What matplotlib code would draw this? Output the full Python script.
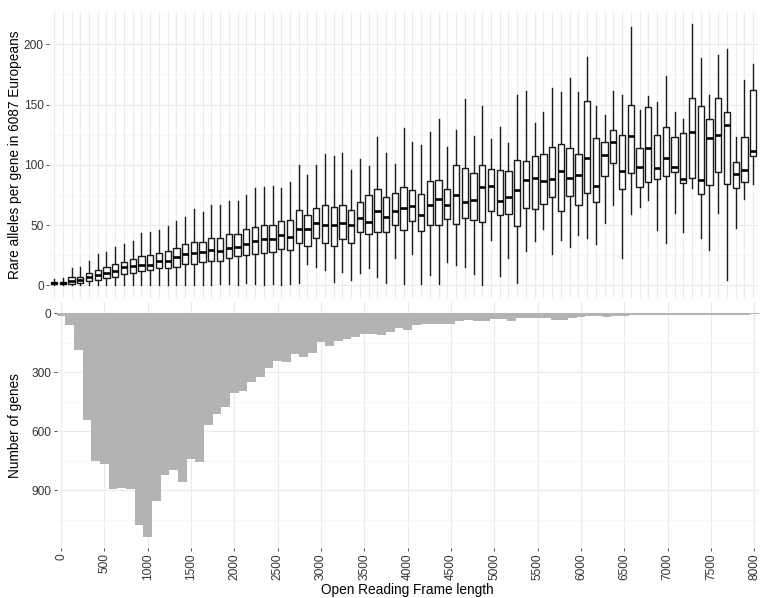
import numpy as np
import matplotlib
matplotlib.use("Agg")
import matplotlib.pyplot as plt

plt.rcParams['font.family'] = ['Liberation Sans', 'DejaVu Sans']

# ORF length bins (categories)
orf_bins = np.arange(0, 8001, 100)

# Boxplot statistics per bin (rare alleles per gene)
box_q1 = [1, 1, 1, 2, 3.5, 4.4, 6.3, 7, 9, 10,
          11.6, 12.7, 14, 14, 15.5, 18, 18, 19, 20, 20,
          23, 24, 25, 26, 27, 28, 30, 29, 35, 33,
          39, 35, 33, 38.4, 35, 44, 42.8, 44, 44, 49.7,
          46, 53.3, 45, 50, 49.7, 54.7, 51, 55.5, 54.4, 52.8,
          62, 58, 59, 49, 63.8, 63, 67.7, 73.5, 61.3, 73.8,
          66.9, 77, 69, 91, 101.4, 80, 92.8, 81.2, 86, 87.8,
          91, 94, 84.8, 88.7, 75.7, 82.9, 94.2, 84, 80.4, 85.4,
          107.2]
box_med = [2, 2, 4, 4.5, 7, 8.5, 10.5, 12, 15.5, 16,
           17, 17, 20.4, 20.4, 23.5, 25.7, 26.5, 27.3, 29.3, 28.5,
           31, 32, 34, 37, 38.4, 38.4, 41.4, 40, 46.4, 46.4,
           51.4, 50, 50, 51.4, 50, 56, 52.8, 61.6, 57, 62,
           64, 66, 58.6, 67, 72, 66.9, 75, 69, 71, 81.5,
           82.6, 70, 73.5, 78.7, 87, 89, 86.5, 87.8, 94.8, 89,
           91.7, 105.5, 82, 108.3, 119, 94.8, 123.6, 97.8, 114, 97,
           105.5, 98.3, 88.4, 127.6, 87, 122.4, 124.9, 132.9, 92.5, 95.9,
           111.6]
box_q3 = [3, 3, 7, 7, 10, 13, 15, 17.4, 19, 21.5,
          24.6, 25, 27, 28.5, 31, 34, 36, 36, 39, 39,
          42.5, 42.5, 47, 48.6, 49.7, 49.7, 53, 54, 62.7, 58,
          63.8, 66.9, 65, 66.9, 62.7, 69, 75, 79.8, 72.9, 77,
          81.5, 79.3, 76, 86.5, 87, 80, 100, 97, 93, 100,
          96.4, 95.3, 94.5, 103.6, 103, 107, 108.6, 115, 117, 113.8,
          109, 153, 122.4, 119, 128.7, 124.9, 150, 114, 148, 124.6,
          131.5, 122.7, 126.5, 155.8, 149, 137.8, 155.8, 144, 102.5, 122.7,
          162.4]
whisk_lo = [0, 0, 0, 0, 0, 0, 0, 0, 0, 0,
            0, 0, 0, 0, 0, 0, 0, 0, 0, 1,
            1, 0, 2, 1, 0, 1, 0, 1, 2, 17.4,
            15.5, 12.7, 2.8, 11.3, 4.4, 10.5, 14.4, 6.6, 1.7, 22.4,
            1, 26, 1, 8.3, 1, 19, 17, 15, 9.4, 0,
            38, 7.5, 23, 2, 28.5, 36.5, 47, 26, 37.3, 32,
            42, 39, 34, 52, 66.3, 22.4, 59, 65, 71, 46,
            35.4, 60, 44.2, 81, 39, 29.3, 60, 4.4, 47.2, 72,
            84]
whisk_hi = [5, 6, 14, 15, 20, 26, 28, 32, 34, 37,
            43, 44, 46, 49, 53, 57, 63, 61, 66.6, 66.6,
            70, 69.6, 75, 80.6, 81.5, 82.6, 80.4, 85.6, 99.7, 91.7,
            99.7, 108.6, 107.7, 109.4, 95.6, 104.4, 99, 123, 109.4, 100.5,
            130.7, 118.5, 116.6, 127.6, 137.6, 114.6, 128.5, 154.4, 123.8, 149,
            121.5, 131.5, 117.7, 157.5, 161.6, 135, 143.4, 164, 160, 172.4,
            160, 189.2, 149, 141.4, 161.6, 158.3, 214, 145.3, 157, 152.5,
            174, 144, 137.6, 217, 189, 157.5, 191.4, 196.4, 122.7, 170.4,
            184]

# Number of genes per ORF length bin
gene_counts = [12, 58, 187, 542, 752, 767, 895, 886, 895, 1077,
               1138, 954, 824, 798, 858, 742, 756, 569, 513, 475,
               407, 394, 351, 323, 278, 243, 246, 209, 221, 204,
               144, 165, 139, 129, 119, 104, 104, 112, 95, 75,
               83, 59, 54, 56, 56, 53, 37, 34, 37, 37,
               29, 31, 37, 25, 25, 25, 25, 34, 34, 22,
               17, 15, 14, 17, 12, 12, 10, 10, 9, 11,
               10, 10, 11, 10, 10, 8, 11, 10, 9, 11,
               4]

W, H = 761, 598
fig = plt.figure(figsize=(W / 100, H / 100), dpi=100)

def rect(l, r, t, b):
    return [l / W, 1 - b / H, (r - l) / W, (b - t) / H]

grid_major = '#EBEBEB'
grid_minor = '#F4F4F4'
tick_col = '#333333'
fs_tick = 8.6
fs_title = 9.8

# ---------------- Top panel: boxplots ----------------
ax1 = fig.add_axes(rect(48.8, 758.4, 10.7, 298.4))
pos = np.arange(len(orf_bins))
stats = []
for i in range(len(orf_bins)):
    stats.append(dict(med=box_med[i], q1=box_q1[i], q3=box_q3[i],
                      whislo=whisk_lo[i], whishi=whisk_hi[i], fliers=[]))
ax1.bxp(stats, positions=pos, widths=0.72, showcaps=False, showfliers=False,
        patch_artist=True,
        boxprops=dict(facecolor='white', edgecolor='#1a1a1a', linewidth=1.0),
        medianprops=dict(color='black', linewidth=1.9),
        whiskerprops=dict(color='#1a1a1a', linewidth=1.0))
ax1.set_xlim(-0.6, len(orf_bins) - 0.4)
ax1.set_ylim(-10.85, 227.85)
ax1.set_yticks([0, 50, 100, 150, 200])
ax1.set_yticks([25, 75, 125, 175, 225], minor=True)
ax1.set_xticks(pos)
ax1.set_xticklabels([])
ax1.tick_params(axis='x', length=0)
ax1.tick_params(axis='y', which='major', length=2.2, color=tick_col, labelcolor=tick_col,
                labelsize=fs_tick, pad=1.5, width=0.6)
ax1.tick_params(axis='y', which='minor', length=0)
ax1.grid(True, which='major', color=grid_major, linewidth=0.8)
ax1.grid(True, which='minor', axis='y', color=grid_minor, linewidth=0.5)
ax1.set_axisbelow(True)
for s in ax1.spines.values():
    s.set_visible(False)

# ---------------- Bottom panel: gene counts ----------------
ax2 = fig.add_axes(rect(56.7, 758.6, 302.1, 548.4))
ax2.bar(orf_bins, gene_counts, width=100, color='#B3B3B3', linewidth=0)
ax2.set_xlim(-50, 8050)
ax2.set_ylim(1195, -57)
ax2.set_xticks(np.arange(0, 8001, 500))
ax2.set_yticks([0, 300, 600, 900])
ax2.set_yticks([150, 450, 750, 1050], minor=True)
ax2.tick_params(axis='x', which='major', length=2.2, color=tick_col, labelcolor=tick_col,
                labelsize=fs_tick, pad=1.5, width=0.6, labelrotation=90)
ax2.tick_params(axis='y', which='major', length=2.2, color=tick_col, labelcolor=tick_col,
                labelsize=fs_tick, pad=1.5, width=0.6)
ax2.tick_params(axis='y', which='minor', length=0)
ax2.grid(True, which='major', color=grid_major, linewidth=0.8)
ax2.grid(True, which='minor', axis='y', color=grid_minor, linewidth=0.5)
ax2.set_axisbelow(True)
for s in ax2.spines.values():
    s.set_visible(False)
ax2.set_xlabel('Open Reading Frame length', fontsize=fs_title, labelpad=2)

# y axis titles placed at the same horizontal position
fig.text(15 / W, 1 - (10.7 + 298.4) / 2 / H, 'Rare alleles per gene in 6087 Europeans',
         rotation=90, ha='center', va='center', fontsize=fs_title, color='black')
fig.text(15 / W, 1 - (302.1 + 548.4) / 2 / H, 'Number of genes',
         rotation=90, ha='center', va='center', fontsize=fs_title, color='black')

fig.savefig('out.png', dpi=100)
